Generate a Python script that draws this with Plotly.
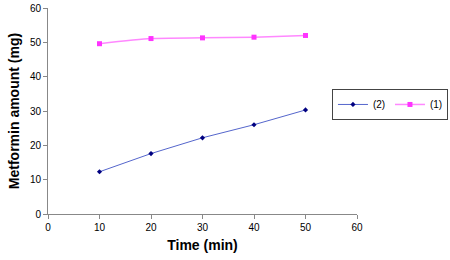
import plotly.graph_objects as go

time_min = [10, 20, 30, 40, 50]
series_2 = [12.3, 17.6, 22.2, 26.0, 30.3]
series_1 = [49.6, 51.1, 51.3, 51.5, 52.0]

fig = go.Figure()
fig.add_trace(go.Scatter(x=time_min, y=series_2, name="(2)", mode="lines+markers",
                         line=dict(color="#5566cc", width=1),
                         marker=dict(symbol="diamond", size=4, color="#000080")))
fig.add_trace(go.Scatter(x=time_min, y=series_1, name="(1)", mode="lines+markers",
                         line=dict(color="#ff88ff", width=1.5, shape="spline", smoothing=0.6),
                         marker=dict(symbol="square", size=5, color="#ff33ff")))

fig.update_layout(
    width=450, height=260,
    margin=dict(l=48, r=93, t=8, b=46, autoexpand=False),
    paper_bgcolor="white", plot_bgcolor="white",
    font=dict(family="Liberation Sans, Arial, sans-serif", size=10, color="black"),
    legend=dict(orientation="h", x=0.919, y=0.607, xanchor="left", yanchor="top",
                bordercolor="#444444", borderwidth=1, font=dict(size=10),
                itemwidth=30, entrywidth=12, entrywidthmode="pixels",
                tracegroupgap=0),
)
fig.update_xaxes(range=[0, 60], dtick=10, showgrid=False, zeroline=False,
                 showline=True, linecolor="#888888", ticks="outside", ticklen=4,
                 tickcolor="#888888", automargin=False,
                 title=dict(text="<b>Time (min)</b>", font=dict(size=14), standoff=8))
fig.update_yaxes(range=[0, 60], dtick=10, showgrid=False, zeroline=False,
                 showline=True, linecolor="#888888", ticks="outside", ticklen=4,
                 tickcolor="#888888", automargin=False,
                 title=dict(text="<b>Metformin amount (mg)</b>", font=dict(size=14), standoff=6))

fig.write_html("out.html", config={"displayModeBar": False},
               post_script="document.body.style.margin='0';")
